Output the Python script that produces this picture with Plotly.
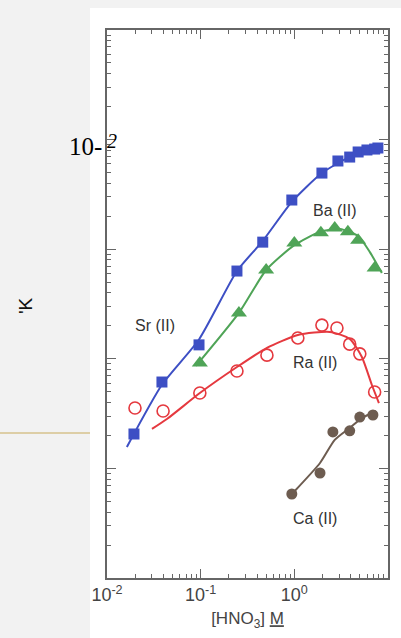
import plotly.graph_objects as go

# ---- data ----
sr_x = [0.0194, 0.0386, 0.096, 0.244, 0.46, 0.94, 1.97, 2.92, 3.9, 4.8, 5.96, 7.2, 7.8]
sr_y = [0.206, 0.614, 1.34, 6.32, 11.6, 28.1, 49.5, 63.8, 69.3, 77.1, 80.4, 82.0, 83.8]
sr_fit_x = [0.0163, 0.0386, 0.096, 0.244, 0.46, 0.94, 1.97, 3.9, 8.8]
sr_fit_y = [0.157, 0.58, 1.5, 6.32, 11.9, 27.0, 49.5, 69.3, 85.5]

ba_x = [0.098, 0.256, 0.50, 1.0, 1.92, 2.7, 3.73, 4.8, 7.2]
ba_y = [0.916, 2.62, 6.46, 11.4, 14.1, 15.6, 14.4, 12.1, 6.73]
ba_fit_x = [0.089, 0.256, 0.50, 1.0, 1.88, 3.07, 4.8, 6.41, 8.6]
ba_fit_y = [0.86, 2.62, 6.46, 10.9, 14.4, 15.3, 13.2, 9.4, 6.06]

ra_x = [0.0199, 0.0397, 0.098, 0.244, 0.51, 1.09, 1.97, 2.85, 3.9, 5.0, 7.2]
ra_y = [0.356, 0.334, 0.487, 0.774, 1.08, 1.55, 2.03, 1.91, 1.36, 1.11, 0.498]
ra_fit_x = [0.0302, 0.0436, 0.098, 0.244, 0.51, 1.09, 2.4, 3.9, 5.26, 6.73, 8.0]
ra_fit_y = [0.229, 0.282, 0.487, 0.841, 1.26, 1.65, 1.76, 1.52, 1.04, 0.577, 0.395]

ca_x = [0.94, 1.88, 2.58, 3.9, 5.0, 6.9]
ca_y = [0.0584, 0.0908, 0.215, 0.22, 0.294, 0.307]
ca_fit_x = [1.01, 1.88, 2.7, 3.9, 5.26, 7.43]
ca_fit_y = [0.0622, 0.112, 0.182, 0.234, 0.288, 0.334]

x_tickvals = [0.01, 0.1, 1, 10]
x_ticktext = ["10<sup>-2</sup>", "10<sup>-1</sup>", "10<sup>0</sup>", "10<sup>1</sup>"]

# series labels: (text, log10 x, log10 y)
series_labels = [("Sr (II)", -1.488, 0.308), ("Ba (II)", 0.433, 1.349),
                 ("Ra (II)", 0.220, -0.038), ("Ca (II)", 0.220, -1.453)]

BLUE = "#3d4fc4"
GREEN = "#4fa457"
RED = "#e5393f"
BROWN = "#6d5c50"

fig = go.Figure()

def add_series(fx, fy, px, py, color, marker):
    fig.add_trace(go.Scatter(x=fx, y=fy, mode="lines",
                             line=dict(color=color, width=2, shape="spline", smoothing=0.6),
                             hoverinfo="skip", showlegend=False))
    fig.add_trace(go.Scatter(x=px, y=py, mode="markers", marker=marker, showlegend=False))

add_series(sr_fit_x, sr_fit_y, sr_x, sr_y, BLUE,
           dict(symbol="square", size=11, color=BLUE))
add_series(ba_fit_x, ba_fit_y, ba_x, ba_y, GREEN,
           dict(symbol="triangle-up", size=14, color=GREEN))
add_series(ra_fit_x, ra_fit_y, ra_x, ra_y, RED,
           dict(symbol="circle-open", size=12, color=RED, line=dict(width=1.6, color=RED)))
add_series(ca_fit_x, ca_fit_y, ca_x, ca_y, BROWN,
           dict(symbol="circle", size=11, color=BROWN))

lab_font = dict(family="Liberation Sans, Arial, sans-serif", size=16, color="#333333")
for txt, xv, yv in series_labels:
    fig.add_annotation(x=xv, y=yv, xref="x", yref="y", text=txt, showarrow=False,
                       font=lab_font, xanchor="center", yanchor="middle")

axis_common = dict(type="log", showgrid=False, zeroline=False, showline=True, automargin=False,
                   linecolor="#666666", linewidth=1.5, mirror="allticks",
                   ticks="inside", ticklen=9, tickwidth=1.3, tickcolor="#666666",
                   minor=dict(ticks="inside", ticklen=4, tickwidth=1.1, tickcolor="#666666",
                              dtick="D1", showgrid=False))

fig.update_xaxes(range=[-2, 1], tickvals=x_tickvals, ticktext=x_ticktext,
                 tickfont=dict(family="Liberation Sans, Arial, sans-serif", size=18, color="#444444"),
                 title=dict(text="[HNO<sub>3</sub>] <u>M</u>", standoff=8,
                            font=dict(family="Liberation Sans, Arial, sans-serif", size=17, color="#444444")),
                 **axis_common)
fig.update_yaxes(range=[-2, 3], dtick=1, showticklabels=False, **axis_common)

# slide background pieces
fig.add_shape(type="rect", xref="paper", yref="paper", x0=-0.0605, x1=1.1, y0=-0.12, y1=1.04,
              fillcolor="white", line=dict(width=0), layer="below")
fig.add_shape(type="line", xref="paper", yref="paper", x0=-0.381, x1=-0.0605, y0=0.2646, y1=0.2646,
              line=dict(color="#c8aa5a", width=1.2))

fig.add_annotation(xref="paper", yref="paper", x=-0.142, y=0.788, text="10-",
                   showarrow=False, xanchor="left", yanchor="middle",
                   font=dict(family="Liberation Serif, Times New Roman, serif", size=25, color="#000000"))
fig.add_annotation(xref="paper", yref="paper", x=-0.006, y=0.797, text="<i>2</i>",
                   showarrow=False, xanchor="left", yanchor="middle",
                   font=dict(family="Liberation Serif, Times New Roman, serif", size=20, color="#000000"))
fig.add_annotation(xref="paper", yref="paper", x=-0.292, y=0.498, text="'K", textangle=-90,
                   showarrow=False, xanchor="center", yanchor="middle",
                   font=dict(family="Liberation Sans, Arial, sans-serif", size=19, color="#111111"))

fig.update_layout(width=401, height=638, margin=dict(l=107, r=13, t=30, b=60),
                  paper_bgcolor="#f2f2f2", plot_bgcolor="white")

fig.write_html("out.html", config={"displayModeBar": False},
               post_script="document.body.style.margin='0';document.body.style.overflow='hidden';")
